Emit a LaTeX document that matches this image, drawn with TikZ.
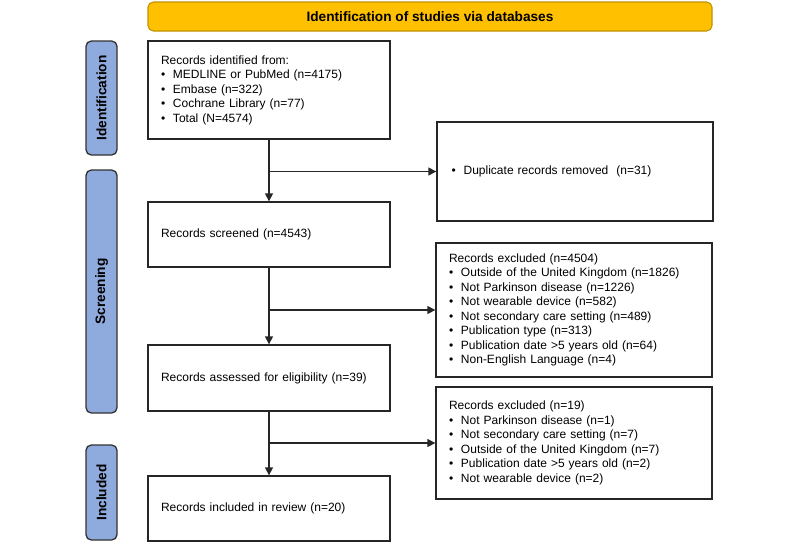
\documentclass[tikz,border=0pt]{standalone}
\usepackage{fontspec}
\setmainfont{Liberation Sans}
\usetikzlibrary{arrows.meta}
\definecolor{bannerfill}{HTML}{FFC000}
\definecolor{bannerdraw}{HTML}{C29100}
\definecolor{sidefill}{HTML}{8FAADC}
\definecolor{sidedraw}{HTML}{333333}
\newcommand\bitem[1]{\makebox[9pt][l]{\textbullet}#1}
\tikzset{
  banner/.style={draw=bannerdraw, fill=bannerfill, line width=0.8pt, rounded corners=4pt, font=\fontsize{10.25}{12}\selectfont\bfseries},
  side/.style={draw=sidedraw, fill=sidefill, line width=1pt, rounded corners=4pt, rotate=90, font=\fontsize{10.25}{12}\selectfont\bfseries},
  flowbox/.style={draw=black!85, line width=1pt, align=left, inner xsep=9.75pt, inner ysep=0pt, font=\fontsize{9}{10.9}\selectfont},
  conn/.style={draw=black!85, line width=1pt, -{Triangle[length=6pt,width=6pt]}}
}
\begin{document}
\begin{tikzpicture}[x=0.75pt,y=-0.75pt]
\useasboundingbox (0,0) rectangle (800,544);
\node[banner, minimum width=423pt, minimum height=21.75pt] (ban) at (430,16.5) {Identification of studies via databases};
\node[side, minimum width=85.5pt, minimum height=23.25pt] (sid) at (101.5,98) {Identification};
\node[side, minimum width=182.25pt, minimum height=23.25pt] (sscr) at (101.5,291.5) {Screening};
\node[side, minimum width=71.25pt, minimum height=23.25pt] (sinc) at (101.5,492.5) {Included};

\node[flowbox, minimum width=181.5pt, minimum height=73.5pt, text width=162pt] (ident) at (269,90) {Records identified from:\\
\bitem{MEDLINE or PubMed (n=4175)}\\
\bitem{Embase (n=322)}\\
\bitem{Cochrane Library (n=77)}\\
\bitem{Total (N=4574)}};
\node[flowbox, minimum width=181.5pt, minimum height=48.75pt, text width=162pt] (scr) at (269,234.5) {Records screened (n=4543)};
\node[flowbox, minimum width=181.5pt, minimum height=49.5pt, text width=162pt] (elig) at (269,378) {Records assessed for eligibility (n=39)};
\node[flowbox, minimum width=181.5pt, minimum height=48.75pt, text width=162pt] (inc) at (269,508.5) {Records included in review (n=20)};

\node[flowbox, inner xsep=11pt, minimum width=207pt, minimum height=74.25pt, text width=185pt] (dup) at (575,171.5) {\bitem{Duplicate records removed\ \ (n=31)}};
\node[flowbox, minimum width=207pt, minimum height=100.5pt, text width=187.5pt] (exa) at (574,310) {Records excluded (n=4504)\\
\bitem{Outside of the United Kingdom (n=1826)}\\
\bitem{Not Parkinson disease (n=1226)}\\
\bitem{Not wearable device (n=582)}\\
\bitem{Not secondary care setting (n=489)}\\
\bitem{Publication type (n=313)}\\
\bitem{Publication date >5 years old (n=64)}\\
\bitem{Non-English Language (n=4)}};
\node[flowbox, minimum width=207pt, minimum height=84pt, text width=187.5pt] (exb) at (574,443) {Records excluded (n=19)\\
\bitem{Not Parkinson disease (n=1)}\\
\bitem{Not secondary care setting (n=7)}\\
\bitem{Outside of the United Kingdom (n=7)}\\
\bitem{Publication date >5 years old (n=2)}\\
\bitem{Not wearable device (n=2)}};

\coordinate (j1) at (ident.south |- dup.west);
\coordinate (j2) at (scr.south |- exa.west);
\coordinate (j3) at (elig.south |- exb.west);
\draw[conn] (ident.south) -- (scr.north);
\draw[conn] (j1) -- (dup.west);
\draw[conn] (scr.south) -- (elig.north);
\draw[conn] (j2) -- (exa.west);
\draw[conn] (elig.south) -- (inc.north);
\draw[conn] (j3) -- (exb.west);
\end{tikzpicture}
\end{document}
